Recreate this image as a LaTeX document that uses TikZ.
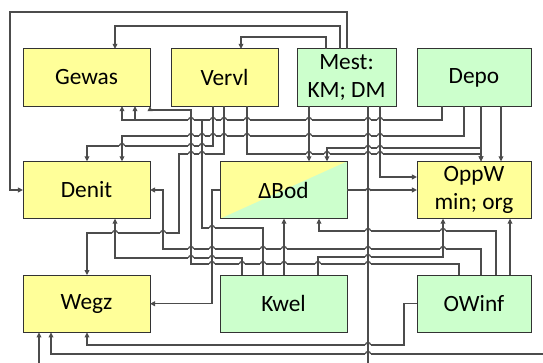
\documentclass[tikz,border=0pt]{standalone}
\usepackage{fontspec}
\setmainfont{Carlito}
\usetikzlibrary{arrows.meta}
\definecolor{ylwfill}{HTML}{FFFF99}
\definecolor{grnfill}{HTML}{CCFFCC}
\tikzset{
  box/.style={draw=black!80, line width=0.75pt, inner sep=0pt, outer sep=0pt,
    minimum height=43pt, align=center, font=\fontsize{17.5}{20.5}\selectfont},
  ylw/.style={box, fill=ylwfill},
  grn/.style={box, fill=grnfill},
  con/.style={draw=black!70, line width=0.9pt},
  arr/.style={con, -{Triangle[length=3.8pt,width=3.6pt]}},
}
\begin{document}
\begin{tikzpicture}[x=0.75pt,y=-0.75pt]
\useasboundingbox (0,0) rectangle (543,363);
% boxes
\node[ylw, minimum width=95.25pt] (gewas) at (86.5,77.5) {Gewas};
\node[ylw, minimum width=80.25pt] (vervl) at (224.5,77.5) {Vervl};
\node[grn, minimum width=74.25pt] (mest) at (346.5,77.5) {Mest:\\KM; DM};
\node[grn, minimum width=85.5pt] (depo) at (474,77.5) {Depo};
\node[ylw, minimum width=95.25pt] (denit) at (86.5,190) {Denit};
\node[grn, minimum width=95.25pt, path picture={
    \fill[ylwfill] (path picture bounding box.south west)
      -- (path picture bounding box.north west)
      -- (path picture bounding box.north east) -- cycle;}]
  (dbod) at (283.5,190) {ΔBod};
\node[ylw, minimum width=85.5pt] (oppw) at (474,190) {OppW\\min; org};
\node[ylw, minimum width=95.25pt] (wegz) at (86.5,303.75) {Wegz};
\node[grn, minimum width=95.25pt] (kwel) at (283.5,303.75) {Kwel};
\node[grn, minimum width=85.5pt] (owinf) at (474,303.75) {OWinf};
\coordinate (offr) at (560,354);
% Mest
\draw[arr] (mest.north -| 340,0) |- (115,26) -- (gewas.north -| 115,0);
\draw[arr] (mest.north -| 326,0) |- (241,37) -- (vervl.north -| 241,0);
\draw[arr] (mest.north -| 347,0) |- (10,12) |- (denit.west);
\draw[arr] (mest.south -| 309,0) -- (dbod.north -| 309,0);
\draw[arr] (mest.south -| 380,0) |- (oppw.west |- 0,177);
\draw[arr] (mest.south -| 368,0) -- (368,378) -| (wegz.south -| 39,0);
% Depo
\draw[arr] (depo.south -| 442,0) |- (135,120) -- (gewas.south -| 135,0);
\draw[arr] (depo.south -| 464,0) |- (122,136) -- (denit.north -| 122,0);
\draw[arr] (depo.south -| 481,0) |- (327,148) -- (dbod.north -| 327,0);
\draw[arr] (depo.south -| 481,0) -- (oppw.north -| 481,0);
\draw[arr] (depo.south -| 501,0) -- (oppw.north -| 501,0);
\draw[arr] (offr) -| (wegz.south -| 51,0);
% Vervl
\draw[arr] (vervl.south -| 213,0) |- (87,146) -- (denit.north -| 87,0);
\draw[arr] (vervl.south -| 224,0) |- (179,154) |- (87,233) -- (wegz.north -| 87,0);
\draw[arr] (vervl.south -| 247,0) |- (481,154) -- (oppw.north -| 481,0);
% dBod
\draw[arr] (dbod.east) -- (oppw.west);
\draw[arr] (dbod.west) -- (212,190) |- (wegz.east);
% Kwel
\draw[arr] (kwel.north -| 263,0) |- (202,228) |- (122,120) -- (gewas.south -| 122,0);
\draw[arr] (kwel.north -| 242,0) |- (115,258) -- (denit.south -| 115,0);
\draw[arr] (kwel.north -| 284,0) -- (dbod.south -| 284,0);
\draw[arr] (kwel.north -| 318,0) |- (443,257) -- (oppw.south -| 443,0);
% OWinf
\draw[arr] (owinf.north -| 459,0) |- (191,264) |- (150,110) -- (gewas.south east);
\draw[arr] (owinf.north -| 481,0) |- (163,249) |- (denit.east);
\draw[arr] (owinf.north -| 496,0) |- (319,231) -- (dbod.south -| 319,0);
\draw[arr] (owinf.north -| 510,0) -- (oppw.south -| 510,0);
\draw[arr] (owinf.west) -- (404,303.75) |- (87,345) -- (wegz.south -| 87,0);
% line hops
\foreach \hx/\hy in {191/120,213/120,224/120,247/120,309/120,368/120,380/120,
    191/136,202/136,213/136,224/136,247/136,309/136,368/136,380/136,
    122/146,191/146,202/146,368/148,380/148,
    191/154,202/154,309/154,327/154,368/154,380/154,368/191,
    212/228,115/233,163/233,
    191/249,212/249,263/249,284/249,368/249,443/249,
    191/258,212/258,368/257,
    212/264,242/264,263/264,284/264,318/264,368/264,
    368/231,443/231,368/345,368/354}{
  \fill[white] (\hx-2.6,\hy-1.2) rectangle (\hx+2.6,\hy+1.2);
  \draw[con] (\hx,\hy-2) -- (\hx,\hy+2);
  \draw[con] (\hx-2.6,\hy) .. controls (\hx-2.6,\hy-3.4) and (\hx+2.6,\hy-3.4) .. (\hx+2.6,\hy);
}
\end{tikzpicture}
\end{document}
